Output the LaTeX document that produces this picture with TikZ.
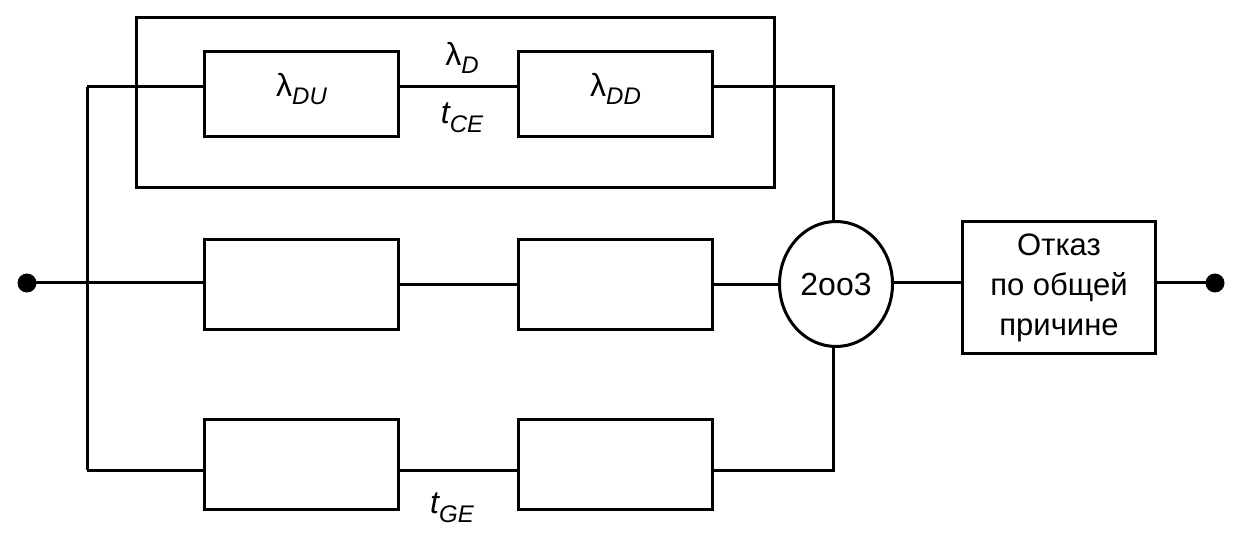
\documentclass[tikz,border=0pt]{standalone}
\usepackage{fontspec}
\setmainfont{Liberation Sans}
\usetikzlibrary{shapes.geometric}
\newcommand{\lam}[1]{{\fontsize{32}{32}\selectfont λ}\raisebox{-8pt}{\fontsize{24}{24}\selectfont\itshape #1}}
\newcommand{\tsub}[1]{{\fontsize{32}{32}\selectfont\itshape t}\raisebox{-9pt}{\fontsize{24}{24}\selectfont\itshape #1}}
\begin{document}
\begin{tikzpicture}[x=1pt,y=-1pt,line width=3pt,
  blk/.style={draw,minimum width=194pt,minimum height=85pt,inner sep=0pt,anchor=north west},
  dotn/.style={circle,fill=black,inner sep=0pt,minimum size=19pt}]
\useasboundingbox (0,0) rectangle (1238,534);
\node[draw,minimum width=638pt,minimum height=170pt,anchor=north west,inner sep=0pt] (outer) at (135,16) {};
\node[blk] (a1) at (203,50) {};
\node[blk] (a2) at (517,50) {};
\node[blk,minimum height=90pt] (b1) at (203,238) {};
\node[blk,minimum height=90pt] (b2) at (517,238) {};
\node[blk,minimum height=90pt] (c1) at (203,418) {};
\node[blk,minimum height=90pt] (c2) at (517,418) {};
\node at ([yshift=5pt]a1.center) {\lam{DU}};
\node at ([yshift=5pt]a2.center) {\lam{DD}};
\node[ellipse,draw,minimum width=113pt,minimum height=125pt,inner sep=0pt,font=\fontsize{32}{32}\selectfont] (v) at (836,284) {2oo3};
\node[draw,minimum width=193pt,minimum height=132pt,anchor=north west,inner sep=0pt,align=center,font=\fontsize{31}{40}\selectfont] (cc) at (961,220) {Отказ\\ по общей\\ причине};
\node[dotn] (in) at (27,283) {};
\node[dotn] (out) at (1215,283) {};
\coordinate (busT) at (87,87);
\coordinate (busB) at (87,470);
\coordinate (rT) at (833,87);
\coordinate (rB) at (833,470);
\draw (in.center) -- (b1.west |- in);
\draw (busT) -- (busB);
\draw (busT) -- (a1.west |- busT);
\draw (busB) -- (c1.west |- busB);
\draw (a1.east |- busT) -- (a2.west |- busT);
\draw (b1.east) -- (b2.west);
\draw (c1.east |- busB) -- (c2.west |- busB);
\draw (a2.east |- busT) -- (rT) -- (rT |- v.north);
\draw (c2.east |- busB) -- (rB) -- (rB |- v.south);
\draw (b2.east) -- (v.west |- b2.east);
\draw (v.east |- in) -- (cc.west |- in);
\draw (cc.east |- in) -- (out.center);
\node (lD) at (462,58) {\lam{D}};
\node (tCE) at (462,118) {\tsub{CE}};
\node (tGE) at (452,508) {\tsub{GE}};
\end{tikzpicture}
\end{document}
